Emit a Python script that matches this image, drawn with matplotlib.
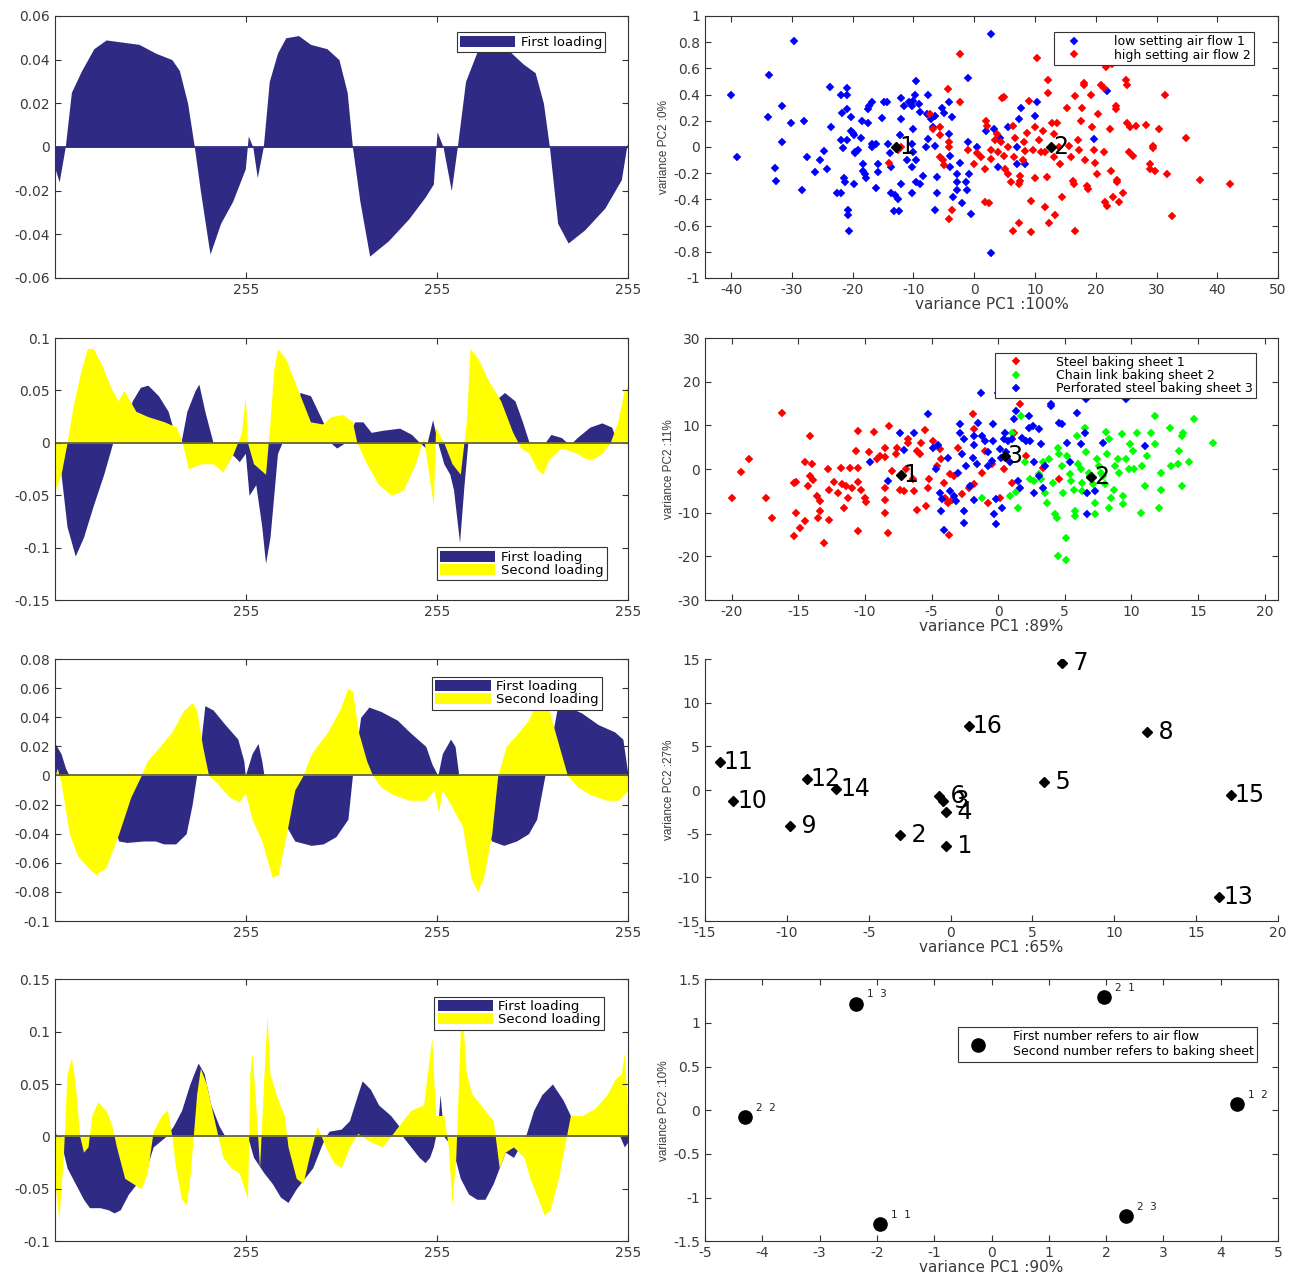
#plot.py
#Cargas de PCA (izquierda) y scores (derecha) en una grilla de 4x2

import matplotlib
matplotlib.use('Agg')
import matplotlib.pyplot as plt
from matplotlib.ticker import FuncFormatter

plt.rcParams['font.family'] = ['DejaVu Sans']

NAVY = '#2f2a84'
YELLOW = '#ffff00'
GRIS = '#333333'
TXT = '#3a3a3a'

#----------------------------------------------------------------
# Cargas (x = indice de variable, 0..765)
#----------------------------------------------------------------
c1_x = [0, 5.5, 13.6, 21.8, 35.5, 51.8, 68.2, 90, 112, 134, 156, 166, 177, 186, 194, 205, 207, 221, 237, 254,
        258, 264, 270, 278, 286, 297, 308, 325, 341, 363, 379, 390, 397, 407, 420, 445, 472, 494, 505, 510,
        518, 529, 537, 548, 565, 581, 603, 625, 641, 652, 660, 671, 685, 707, 734, 756, 764]
c1_first = [-0.010, -0.016, 0, 0.025, 0.035, 0.045, 0.049, 0.048, 0.047, 0.043, 0.040, 0.035, 0.020, 0, -0.020,
            -0.045, -0.049, -0.035, -0.025, -0.010, 0.005, 0, -0.014, 0, 0.030, 0.043, 0.050, 0.051, 0.047, 0.045,
            0.040, 0.025, 0, -0.025, -0.050, -0.043, -0.033, -0.023, -0.017, 0.007, 0, -0.020, 0, 0.030, 0.045,
            0.050, 0.045, 0.038, 0.034, 0.020, 0, -0.035, -0.044, -0.038, -0.028, -0.015, 0.002]

c2_x1 = [0, 8, 16, 27, 38, 51, 65, 77, 92, 103, 114, 124, 138, 151, 159, 168, 176, 187, 192, 200,
         211, 235, 246, 254, 259, 268, 276, 281, 287, 292, 297, 303, 319, 327, 341, 351, 359, 368, 376, 387,
         400, 411, 422, 438, 460, 476, 487, 495, 504, 511, 519, 527, 532, 540, 546, 551, 578, 587, 600, 614,
         624, 633, 654, 662, 676, 687, 697, 714, 730, 743, 751, 765]
c2_first = [0, -0.030, -0.080, -0.108, -0.090, -0.060, -0.030, 0, 0.010, 0.040, 0.053, 0.055, 0.045, 0.030, 0.010,
            0, 0.030, 0.050, 0.056, 0.030, 0, -0.010, -0.018, -0.010, -0.050, -0.040, -0.080, -0.115, -0.090,
            -0.050, -0.010, 0, 0.010, 0.048, 0.045, 0.030, 0.018, 0, -0.005, 0, 0.020, 0.020, 0.010, 0.012,
            0.014, 0.008, 0, -0.005, 0.022, 0, -0.020, -0.030, -0.045, -0.095, -0.040, 0, 0.020, 0.040, 0.048,
            0.040, 0.020, 0, 0, 0.008, 0.005, -0.002, 0.005, 0.015, 0.019, 0.015, 0, 0]
c2_x2 = [0, 8, 16, 24, 35, 43, 51, 62, 73, 84, 92, 100, 108, 124, 146, 162, 170, 178, 195, 211,
         224, 238, 249, 254, 257, 265, 281, 287, 292, 297, 308, 319, 330, 341, 357, 368, 384, 397, 403, 416,
         432, 449, 465, 481, 492, 505, 508, 519, 530, 541, 549, 554, 565, 578, 595, 611, 622, 633, 643, 651,
         660, 676, 697, 708, 719, 730, 741, 751, 760, 765]
c2_second = [-0.045, -0.030, 0, 0.035, 0.070, 0.090, 0.090, 0.075, 0.055, 0.040, 0.050, 0.040, 0.030, 0.025, 0.020,
             0.015, 0, -0.025, -0.020, -0.020, -0.028, -0.010, 0.010, 0.045, 0, -0.020, -0.030, 0.020, 0.070,
             0.090, 0.080, 0.060, 0.040, 0.020, 0.018, 0.025, 0.027, 0.020, 0, -0.020, -0.040, -0.050, -0.045,
             -0.020, 0.005, -0.060, 0.015, 0, -0.020, -0.030, 0.020, 0.090, 0.080, 0.060, 0.040, 0.010, -0.005,
             -0.010, -0.025, -0.030, -0.015, -0.005, -0.010, -0.015, -0.015, -0.010, 0, 0.020, 0.050, 0.055]

c3_x1 = [0, 8, 14, 19, 36, 68, 85, 96, 118, 134, 145, 161, 175, 183, 189, 194, 200, 211, 227, 244,
         252, 254, 263, 271, 276, 279, 309, 320, 342, 358, 375, 391, 397, 408, 419, 435, 457, 473, 495, 503,
         511, 517, 528, 534, 539, 572, 583, 599, 616, 632, 643, 654, 670, 681, 703, 725, 747, 758, 765]
c3_first = [0.022, 0.015, 0.005, 0, -0.010, -0.020, -0.045, -0.046, -0.045, -0.045, -0.047, -0.047, -0.040, -0.020,
            0, 0.020, 0.048, 0.045, 0.035, 0.025, 0.010, 0, 0.015, 0.022, 0.010, 0, -0.035, -0.045, -0.048,
            -0.047, -0.042, -0.030, 0, 0.040, 0.047, 0.044, 0.038, 0.030, 0.020, 0.008, 0, 0.015, 0.025, 0.020,
            0, -0.035, -0.045, -0.048, -0.045, -0.040, -0.030, 0, 0.045, 0.048, 0.043, 0.035, 0.030, 0.025, 0]
c3_x2 = [0, 3, 8, 19, 30, 47, 55, 68, 85, 101, 115, 123, 140, 156, 172, 183, 189, 197, 205, 216,
         233, 246, 254, 263, 276, 290, 298, 309, 320, 331, 342, 364, 380, 391, 397, 405, 416, 424, 435, 451,
         473, 495, 506, 512, 517, 528, 544, 555, 564, 572, 583, 591, 602, 616, 632, 646, 654, 662, 673, 684,
         698, 714, 736, 752, 765]
c3_second = [0, 0.005, -0.005, -0.040, -0.055, -0.065, -0.068, -0.063, -0.040, -0.015, 0, 0.010, 0.020, 0.030,
             0.045, 0.050, 0.045, 0.020, 0, -0.005, -0.015, -0.018, -0.012, -0.030, -0.045, -0.070, -0.068,
             -0.040, -0.010, 0, 0.015, 0.030, 0.045, 0.060, 0.058, 0.030, 0.010, 0, -0.008, -0.013, -0.017,
             -0.017, -0.010, -0.025, -0.010, -0.020, -0.035, -0.070, -0.080, -0.070, -0.040, 0, 0.020, 0.028,
             0.038, 0.055, 0.058, 0.040, 0.020, 0, -0.008, -0.013, -0.017, -0.017, -0.010]

c4_x1 = [0, 5, 11, 16, 27, 38, 46, 60, 71, 79, 87, 98, 109, 120, 131, 148, 158, 169, 180, 191,
         199, 208, 219, 227, 257, 265, 279, 290, 301, 311, 322, 333, 344, 355, 361, 366, 382, 393, 404, 410,
         421, 432, 448, 459, 464, 475, 486, 494, 500, 505, 511, 514, 519, 530, 541, 552, 563, 574, 585, 593,
         601, 612, 620, 628, 639, 650, 664, 678, 688, 694, 754, 760, 765]
c4_first = [0.003, 0, -0.015, -0.030, -0.045, -0.060, -0.068, -0.068, -0.070, -0.073, -0.070, -0.055, -0.045,
            -0.035, -0.010, 0, 0.010, 0.025, 0.050, 0.070, 0.060, 0.030, 0.010, 0, 0, -0.020, -0.035, -0.045,
            -0.058, -0.063, -0.050, -0.040, -0.030, -0.010, 0, 0.005, 0.007, 0.015, 0.040, 0.053, 0.045, 0.030,
            0.020, 0.010, 0, -0.010, -0.020, -0.025, -0.020, -0.010, 0.010, 0.040, 0, -0.010, -0.040, -0.055,
            -0.060, -0.060, -0.045, -0.030, -0.015, -0.020, -0.010, 0, 0.025, 0.040, 0.050, 0.035, 0.020, 0,
            0, -0.010, -0.005]
c4_x2 = [0, 5, 11, 16, 22, 27, 33, 38, 44, 49, 57, 68, 76, 82, 93, 104, 115, 123, 131, 142,
         150, 156, 161, 169, 175, 180, 189, 194, 202, 208, 216, 224, 235, 246, 257, 260, 263, 268, 273, 279,
         283, 287, 295, 306, 311, 322, 331, 339, 350, 361, 372, 382, 393, 404, 421, 437, 448, 464, 475, 492,
         503, 508, 519, 525, 530, 535, 541, 544, 549, 557, 574, 585, 593, 601, 612, 626, 634, 645, 653, 661,
         672, 680, 688, 704, 721, 737, 748, 756, 760, 764, 765]
c4_second = [-0.045, -0.080, -0.020, 0.060, 0.075, 0.050, 0, -0.015, -0.010, 0.020, 0.033, 0.025, 0.010, -0.010,
             -0.040, -0.045, -0.050, -0.035, 0.005, 0.020, 0.025, 0, -0.030, -0.060, -0.065, -0.040, 0.040,
             0.065, 0.050, 0.030, 0.005, -0.020, -0.030, -0.035, -0.060, 0.060, 0.080, 0.030, -0.030, 0.060,
             0.115, 0.060, 0.040, 0.020, -0.010, -0.040, -0.045, -0.020, 0.010, -0.010, -0.025, -0.030, -0.010,
             0.003, -0.005, -0.010, 0, 0.015, 0.025, 0.030, 0.095, 0.020, 0.020, -0.010, -0.065, -0.020, 0.100,
             0.115, 0.060, 0.040, 0.025, 0.015, -0.030, -0.015, -0.010, -0.020, -0.040, -0.060, -0.075, -0.070,
             -0.040, -0.010, 0.020, 0.020, 0.027, 0.040, 0.055, 0.060, 0.080, 0.030, -0.050]

#----------------------------------------------------------------
# Scores fila 1: caudal de aire
#----------------------------------------------------------------
aire_bajo = [(-40, 0.40), (-39, -0.08), (-33.7, 0.55), (-29.7, 0.81), (-33.9, 0.23), (-31.7, 0.31), (-31.7, 0.04),
             (-30.2, 0.18), (-28, 0.20), (-32.8, -0.16), (-32.6, -0.26), (-28.3, -0.33), (-27.5, -0.08),
             (-26.2, -0.19), (-25.3, -0.10), (-24.7, -0.03), (-24.2, -0.17), (-23.7, 0.46), (-23.5, 0.15),
             (-22.6, -0.35), (-21.9, -0.35), (-21.9, 0.40), (-20.9, 0.45), (-20.9, 0.40), (-21.7, 0.26),
             (-20.9, 0.29), (-21.9, 0.05), (-20.9, 0.05), (-21.6, -0.01), (-21.5, -0.24), (-21.3, -0.27),
             (-20.8, -0.48), (-20.8, -0.52), (-20.6, -0.64), (-20.2, 0.23), (-20.2, 0.12), (-19.9, 0.11),
             (-19.8, 0.09), (-19.6, -0.04), (-19.6, -0.05), (-19.2, -0.02), (-19.8, -0.28), (-18.7, 0.07),
             (-18.5, 0.20), (-18.3, -0.13), (-18.3, -0.18), (-18.0, -0.21), (-17.8, -0.24), (-17.5, 0.29),
             (-17.3, 0.31), (-16.9, 0.34), (-17.5, 0.18), (-16.9, 0.02), (-16.8, 0.0), (-16.1, 0.02),
             (-15.9, -0.13), (-15.8, -0.19), (-16.1, -0.31), (-15.2, 0.22), (-14.9, 0.34), (-14.4, 0.34),
             (-14.2, 0.02), (-13.9, -0.05), (-13.7, -0.35), (-13.7, -0.15), (-13.1, -0.37), (-12.5, -0.40),
             (-13.2, -0.49), (-12.3, -0.49), (-12.0, 0.37), (-11.6, 0.31), (-12.0, 0.21), (-12.2, 0.09),
             (-12.0, -0.28), (-11.0, -0.10), (-10.7, 0.34), (-10.0, 0.35), (-10.2, 0.31), (-9.6, 0.50),
             (-9.7, 0.40), (-9.1, 0.33), (-9.0, 0.27), (-10.0, 0.14), (-10.3, 0.02), (-10.0, -0.04),
             (-9.6, -0.10), (-10.2, -0.15), (-9.6, -0.27), (-10.2, -0.35), (-9.0, -0.28), (-8.5, -0.22),
             (-7.6, 0.40), (-7.8, 0.25), (-7.9, 0.0), (-7.6, 0.06), (-7.1, 0.21), (-6.8, 0.15), (-6.4, 0.24),
             (-6.4, 0.01), (-6.2, -0.23), (-6.2, -0.35), (-6.4, -0.48), (-5.3, 0.30), (-5.0, 0.26),
             (-4.1, 0.34), (-3.6, 0.23), (-4.1, 0.10), (-3.9, -0.07), (-3.9, -0.15), (-3.5, -0.38),
             (-2.9, -0.21), (-2.8, -0.27), (-2.8, -0.33), (-2.3, -0.12), (-2.0, -0.43), (-1.3, -0.27),
             (-1.2, -0.33), (-0.8, -0.21), (-1.0, 0.04), (-1.0, 0.53), (-0.6, -0.51), (0.4, 0.0), (2.7, 0.86),
             (2.7, -0.81), (2.0, 0.12), (3.2, 0.14), (4.2, 0.07), (3.9, -0.15), (5.6, 0.15), (7.7, 0.30),
             (7.3, 0.21), (7.0, 0.0), (7.0, -0.13), (10.0, 0.24), (10.3, 0.34), (8.3, -0.13), (19.7, 0.06),
             (21.9, 0.43)]
aire_alto = [(-14.0, -0.12), (-12.6, -0.02), (-12.0, 0.0), (-7.3, 0.25), (-6.8, 0.14), (-5.6, 0.15), (-5.6, 0.09),
             (-5.6, -0.08), (-5.1, -0.10), (-4.9, -0.14), (-4.3, 0.44), (-4.1, 0.04), (-4.1, 0.0), (-3.7, -0.48),
             (-4.1, -0.55), (-2.3, 0.71), (-2.3, 0.34), (-1.0, -0.02), (-0.1, -0.13), (0.4, -0.05), (1.1, -0.08),
             (1.8, -0.17), (2.0, 0.20), (2.1, 0.16), (1.8, -0.42), (2.5, -0.43), (2.8, -0.02), (2.8, -0.09),
             (3.4, 0.05), (3.7, 0.10), (3.9, -0.04), (4.4, 0.04), (4.6, 0.37), (4.9, 0.38), (4.9, -0.07),
             (5.1, -0.17), (5.6, -0.21), (5.6, 0.0), (6.0, -0.27), (6.4, -0.64), (6.4, 0.16), (6.5, -0.08),
             (6.7, 0.07), (7.3, -0.28), (7.3, -0.58), (7.5, -0.26), (7.6, -0.22), (8.0, -0.10), (8.2, 0.04),
             (8.3, -0.03), (8.7, 0.11), (9.0, 0.35), (9.4, -0.65), (9.4, -0.41), (9.7, -0.02), (10.0, 0.15),
             (10.4, 0.68), (10.0, -0.24), (10.7, 0.05), (11.0, -0.04), (11.4, 0.12), (11.7, -0.04), (12.1, 0.51),
             (12.1, 0.41), (11.9, -0.23), (11.7, -0.46), (12.3, -0.58), (12.8, 0.18), (13.2, 0.10), (13.2, -0.08),
             (13.3, -0.52), (13.7, 0.18), (13.9, 0.0), (14.2, -0.13), (14.5, -0.38), (15.2, 0.30), (15.6, 0.01),
             (15.9, -0.08), (16.3, -0.26), (16.5, -0.28), (16.6, -0.64), (16.6, 0.39), (17.0, 0.05),
             (17.3, -0.02), (17.6, 0.20), (17.8, 0.30), (18.2, 0.66), (18.0, 0.49), (18.0, 0.47), (18.3, -0.10),
             (18.6, -0.30), (18.7, -0.32), (19.2, 0.40), (19.4, 0.15), (19.7, -0.02), (19.9, -0.12),
             (20.2, -0.21), (20.4, 0.25), (20.9, 0.47), (21.3, 0.45), (21.4, -0.04), (21.6, -0.42), (21.8, -0.45),
             (21.7, 0.61), (22.3, 0.14), (22.5, -0.18), (22.7, 0.63), (22.8, -0.38), (23.3, 0.31), (23.3, 0.29),
             (23.5, -0.25), (23.5, -0.27), (23.9, -0.42), (24.5, -0.35), (24.9, 0.51), (25.2, 0.47), (25.2, 0.18),
             (25.4, -0.04), (25.6, 0.15), (26.2, -0.07), (26.6, 0.16), (28.2, 0.17), (28.9, -0.13), (29.0, -0.17),
             (29.5, -0.01), (29.5, 0.01), (29.8, -0.18), (30.4, 0.14), (31.4, 0.40), (31.7, -0.21),
             (32.6, -0.53), (34.9, 0.07), (37.2, -0.25), (42.1, -0.28)]
centros_aire = [(-12.8, 0.0), (12.6, 0.0)]
etiquetas_aire = ['1', '2']

#----------------------------------------------------------------
# Scores fila 2: bandeja
#----------------------------------------------------------------
bandeja_acero = [(-20.0, -6.6), (-19.3, -0.7), (-18.7, 2.4), (-17.4, -6.6), (-17.0, -11.2), (-16.2, 12.9),
                 (-15.3, -3.1), (-15.2, -3.0), (-15.2, -10.0), (-15.3, -15.4), (-14.9, -13.5), (-14.5, -11.8),
                 (-14.5, 1.5), (-14.3, -3.9), (-14.1, 7.6), (-14.0, 1.1), (-14.1, -1.6), (-13.9, -2.6),
                 (-13.6, -6.2), (-13.4, -7.4), (-13.4, -9.6), (-13.5, -11.2), (-13.1, -16.9), (-12.8, 0.1),
                 (-12.7, -11.6), (-12.7, -4.7), (-12.3, -3.0), (-12.0, -5.4), (-11.8, 0.3), (-11.7, -3.5),
                 (-11.6, -8.9), (-11.4, -3.9), (-11.3, -6.6), (-11.1, 0.3), (-11.0, -4.3), (-10.7, 4.1),
                 (-10.5, 8.7), (-10.5, -3.0), (-10.5, 0.3), (-10.5, -14.2), (-10.3, -4.7), (-10.0, -6.6),
                 (-9.9, -7.6), (-9.7, 3.8), (-9.3, 8.5), (-9.1, 2.2), (-8.9, 3.0), (-8.5, 2.8), (-8.5, 4.9),
                 (-8.5, -4.3), (-8.5, -7.0), (-8.5, -10.0), (-8.3, -14.6), (-8.2, 9.9), (-8.0, -0.5), (-7.7, 3.4),
                 (-7.6, 4.7), (-7.4, -4.7), (-7.1, -5.1), (-6.9, -0.1), (-6.8, 6.8), (-6.8, 6.0), (-6.4, -2.4),
                 (-6.3, -5.1), (-6.1, -9.3), (-6.1, 4.1), (-5.9, 3.4), (-5.8, 6.0), (-5.5, 9.0), (-5.4, -8.5),
                 (-5.3, -4.3), (-5.2, -2.4), (-4.9, 6.4), (-4.6, 0.7), (-4.4, 4.5), (-4.3, 2.4), (-4.1, -3.1),
                 (-4.0, -6.6), (-3.8, -7.7), (-3.7, -15.0), (-3.6, -1.2), (-3.5, -7.0), (-3.3, -1.6), (-3.0, 4.9),
                 (-2.7, -5.8), (-2.2, -4.3), (-1.9, 12.6), (-1.8, 9.1), (-1.8, -3.5), (-1.2, -0.8), (-1.0, 4.1),
                 (-0.8, -7.7), (-0.5, 1.1), (0.1, -6.6), (0.4, -0.1), (1.0, -3.1), (1.2, 8.3), (1.6, 14.9),
                 (2.1, 3.0), (3.4, 0.3), (4.6, -2.4)]
bandeja_malla = [(1.0, 8.3), (1.7, 12.2), (2.0, 1.5), (2.4, -2.4), (2.7, -2.8), (3.1, -1.2), (3.4, 1.6), (3.5, -5.4),
                 (3.7, -7.7), (3.8, 2.2), (4.1, -3.1), (4.3, -10.4), (4.4, -11.2), (4.5, -20.0), (4.5, 4.9),
                 (4.6, 3.4), (4.8, 0.7), (4.9, -5.4), (5.1, -15.8), (5.1, -20.8), (5.2, 3.0), (5.4, -1.2),
                 (5.5, -2.8), (5.7, -4.7), (5.8, -9.6), (5.8, -10.8), (5.9, 7.6), (6.0, 1.1), (6.2, 0.0),
                 (6.3, -3.1), (6.3, -5.1), (6.5, 9.5), (6.6, 3.8), (6.8, -0.8), (6.9, -1.6), (7.1, -3.5),
                 (7.3, -7.7), (7.3, -10.4), (7.4, 2.2), (7.6, 0.7), (7.7, -0.8), (7.9, -1.6), (8.0, -3.5),
                 (8.1, 8.5), (8.2, 3.4), (8.3, 6.8), (8.3, -8.9), (8.5, -6.6), (8.7, -4.7), (8.8, 0.7), (9.0, 2.2),
                 (9.1, -0.8), (9.3, 8.0), (9.4, -6.2), (9.4, -8.1), (9.6, 2.2), (9.8, 0.0), (9.9, 5.7), (10.1, 4.1),
                 (10.2, 0.0), (10.4, 8.3), (10.7, -10.0), (10.8, 0.7), (11.0, -3.8), (11.2, 3.0), (11.5, 8.3),
                 (11.8, 12.2), (11.8, 5.7), (12.1, -8.9), (12.2, -0.8), (12.2, -4.7), (12.9, 9.5), (13.0, 0.7),
                 (13.5, 1.1), (13.6, 4.1), (13.8, 7.6), (13.8, -3.8), (13.9, 8.3), (14.3, 1.5), (14.7, 11.4),
                 (16.1, 6.0), (-1.2, -6.6), (1.3, -5.3), (0.9, -6.2), (1.5, -8.9), (3.2, -2.4)]
bandeja_perforada = [(-7.4, 8.2), (-7.1, 4.4), (-8.3, -2.8), (-9.6, 1.5), (-6.3, 8.2), (-5.3, 12.6), (-4.9, 4.7),
                     (-4.7, -0.1), (-4.5, 5.4), (-4.4, -5.4), (-4.2, -6.8), (-4.3, -9.6), (-4.1, -13.9),
                     (-3.8, 2.6), (-3.6, -5.1), (-3.3, -6.2), (-3.2, -7.4), (-3.0, -0.8), (-2.9, 10.3), (-2.9, 8.3),
                     (-2.7, 3.4), (-2.6, 6.8), (-2.6, -9.6), (-2.6, -12.3), (-2.4, 0.7), (-2.1, -3.9), (-1.9, 2.6),
                     (-1.8, 5.4), (-1.6, 1.1), (-1.8, 7.6), (-1.8, -7.0), (-1.5, 10.6), (-1.3, 17.5), (-1.2, 7.6),
                     (-1.0, 6.4), (-0.8, 0.7), (-0.8, 3.8), (-0.5, 1.8), (-0.4, 10.3), (-0.4, 6.4), (-0.3, -10.4),
                     (-0.2, -12.7), (-0.2, -6.8), (0.0, 17.5), (0.1, 4.5), (0.2, 2.6), (0.3, -8.9), (0.4, 6.8),
                     (0.5, 8.3), (0.6, 3.8), (0.7, 6.4), (0.9, 1.5), (1.0, 6.8), (1.2, 11.4), (1.3, 13.3),
                     (1.5, -2.8), (1.6, -4.3), (1.8, 7.2), (2.1, 6.4), (2.3, 12.2), (2.3, 9.5), (2.4, 6.4),
                     (2.6, 9.9), (2.7, 1.5), (2.7, -5.4), (3.1, -1.6), (3.1, 9.1), (3.2, 5.7), (3.4, -4.3),
                     (3.5, 0.7), (4.0, 14.9), (4.0, 14.5), (4.6, 10.6), (4.8, 10.3), (5.2, 6.0), (5.4, 1.5),
                     (5.9, 12.9), (6.3, 18.9), (6.6, 16.0), (6.5, 8.3), (6.2, 5.7), (6.7, -5.4), (6.7, -10.4),
                     (7.3, -5.1), (7.9, 6.0), (9.6, 16.0), (11.0, 5.3), (15.4, 19.1)]
centros_bandeja = [(-7.3, -1.3), (7.0, -1.8), (0.5, 2.9)]
etiquetas_bandeja = ['1', '2', '3']

#----------------------------------------------------------------
# Scores fila 3: 16 muestras
#----------------------------------------------------------------
muestras_n = [7, 16, 8, 11, 12, 14, 10, 6, 3, 4, 5, 15, 9, 2, 1, 13]
muestras_pc1 = [6.8, 1.1, 12.0, -14.1, -8.8, -7.0, -13.3, -0.7, -0.46, -0.3, 5.7, 17.1, -9.8, -3.1, -0.3, 16.4]
muestras_pc2 = [14.5, 7.3, 6.6, 3.2, 1.3, 0.15, -1.3, -0.7, -1.2, -2.55, 0.9, -0.6, -4.1, -5.2, -6.4, -12.3]

#----------------------------------------------------------------
# Scores fila 4: combinaciones aire / bandeja
#----------------------------------------------------------------
combos = ['1 3', '2 1', '2 2', '1 2', '1 1', '2 3']
combos_pc1 = [-2.36, 1.96, -4.30, 4.28, -1.95, 2.35]
combos_pc2 = [1.22, 1.30, -0.076, 0.07, -1.30, -1.21]


def fmt_g(v, pos):
	return '%g' % round(v, 6)


def estilo(ax, caja=True):
	'Ejes al estilo MATLAB: ticks hacia adentro, caja gris'
	for s in ax.spines.values():
		s.set_color(GRIS)
		s.set_linewidth(0.8)
	if caja:
		ax.tick_params(direction='in', top=True, right=True, length=4, width=0.8,
		               colors=GRIS, labelsize=10, labelcolor=TXT)
	else:
		ax.spines['top'].set_visible(False)
		ax.spines['right'].set_visible(False)
		ax.tick_params(direction='in', length=4, width=0.8, colors=GRIS,
		               labelsize=10, labelcolor=TXT)
	ax.xaxis.set_major_formatter(FuncFormatter(fmt_g))
	ax.yaxis.set_major_formatter(FuncFormatter(fmt_g))


def etiquetas_ejes(ax, xl, yl):
	ax.set_xlabel(xl, fontsize=11, color=TXT, labelpad=0)
	ax.set_ylabel(yl, fontsize=8.5, color=TXT, labelpad=2, family='Liberation Sans')


def leyenda(ax, tam=9.5, **kw):
	leg = ax.legend(fontsize=tam, fancybox=False, framealpha=1, edgecolor=GRIS,
	                borderpad=0.25, labelspacing=0.02, **kw)
	leg.get_frame().set_linewidth(0.8)
	return leg


def panel_cargas(ax, x1, y1, x2, y2, yticks, loc, anchor):
	'Dibuja las cargas como areas rellenas desde cero'
	ax.fill_between(x1, 0, y1, color=NAVY, lw=0, label='First loading')
	if x2 is not None:
		ax.fill_between(x2, 0, y2, color=YELLOW, lw=0, label='Second loading')
		ax.axhline(0, color='#66663a', lw=1.3)
	else:
		ax.axhline(0, color=NAVY, lw=1.3)
	ax.set_xlim(0, 765)
	ax.set_ylim(min(yticks), max(yticks))
	ax.set_yticks(yticks)
	ax.set_xticks([255, 510, 765])
	estilo(ax)
	ax.set_xticklabels(['255', '255', '255'])
	leyenda(ax, loc=loc, bbox_to_anchor=anchor, handlelength=4.2, handleheight=0.9, handletextpad=0.4)


def nube(ax, pares, color, label):
	xs = [p[0] for p in pares]
	ys = [p[1] for p in pares]
	ax.plot(xs, ys, 'D', color=color, ms=3.8, mec=color, mew=0.3, ls='none', label=label)


def centros(ax, pares, etiquetas):
	for (cx, cy), et in zip(pares, etiquetas):
		ax.plot(cx, cy, 'D', color='k', ms=5.5)
		ax.annotate(et, (cx, cy), xytext=(2, 0), textcoords='offset points',
		            fontsize=17, va='center', ha='left')


fig = plt.figure(figsize=(12.95, 12.75), dpi=100)

izq, der, ancho, alto = 0.0425, 0.5444, 0.4425, 0.2055
bases = [0.782, 0.5294, 0.2776, 0.0265]

# columna izquierda: cargas
ax = fig.add_axes([izq, bases[0], ancho, alto])
panel_cargas(ax, c1_x, c1_first, None, None, [-0.06, -0.04, -0.02, 0, 0.02, 0.04, 0.06],
             'upper right', (0.972, 0.962))
ax = fig.add_axes([izq, bases[1], ancho, alto])
panel_cargas(ax, c2_x1, c2_first, c2_x2, c2_second, [-0.15, -0.1, -0.05, 0, 0.05, 0.1],
             'lower right', (0.974, 0.05))
ax = fig.add_axes([izq, bases[2], ancho, alto])
panel_cargas(ax, c3_x1, c3_first, c3_x2, c3_second, [-0.1, -0.08, -0.06, -0.04, -0.02, 0, 0.02, 0.04, 0.06, 0.08],
             'upper right', (0.966, 0.958))
ax = fig.add_axes([izq, bases[3], ancho, alto])
panel_cargas(ax, c4_x1, c4_first, c4_x2, c4_second, [-0.1, -0.05, 0, 0.05, 0.1, 0.15],
             'upper right', (0.97, 0.958))

# fila 1 derecha: caudal de aire
ax = fig.add_axes([der, bases[0], ancho, alto])
nube(ax, aire_bajo, '#0000ff', 'low setting air flow 1')
nube(ax, aire_alto, '#ff0000', 'high setting air flow 2')
centros(ax, centros_aire, etiquetas_aire)
ax.set_xlim(-44.3, 50)
ax.set_ylim(-1, 1)
ax.set_xticks(range(-40, 51, 10))
ax.set_yticks([-1, -0.8, -0.6, -0.4, -0.2, 0, 0.2, 0.4, 0.6, 0.8, 1])
estilo(ax)
etiquetas_ejes(ax, 'variance PC1 :100%', 'variance PC2 :0%')
leyenda(ax, tam=9, loc='upper right', bbox_to_anchor=(0.969, 0.962), handlelength=2.8, handletextpad=1.8)

# fila 2 derecha: tipo de bandeja
ax = fig.add_axes([der, bases[1], ancho, alto])
nube(ax, bandeja_acero, '#ff0000', 'Steel baking sheet 1')
nube(ax, bandeja_malla, '#00ff00', 'Chain link baking sheet 2')
nube(ax, bandeja_perforada, '#0000ff', 'Perforated steel baking sheet 3')
centros(ax, centros_bandeja, etiquetas_bandeja)
ax.set_xlim(-22, 21)
ax.set_ylim(-30, 30)
ax.set_xticks(range(-20, 21, 5))
ax.set_yticks(range(-30, 31, 10))
estilo(ax)
etiquetas_ejes(ax, 'variance PC1 :89%', 'variance PC2 :11%')
leyenda(ax, tam=9, loc='upper right', bbox_to_anchor=(0.972, 0.968), handlelength=2.8, handletextpad=1.8)

# fila 3 derecha: muestras numeradas
ax = fig.add_axes([der, bases[2], ancho, alto])
ax.plot(muestras_pc1, muestras_pc2, 'D', color='k', ms=5.5, ls='none')
for n, px, py in zip(muestras_n, muestras_pc1, muestras_pc2):
	ax.annotate(f'{n:>2}', (px, py), xytext=(3, 0), textcoords='offset points',
	            fontsize=17, va='center', ha='left')
ax.set_xlim(-15, 20)
ax.set_ylim(-15, 15)
ax.set_xticks(range(-15, 21, 5))
ax.set_yticks(range(-15, 16, 5))
estilo(ax, caja=False)
etiquetas_ejes(ax, 'variance PC1 :65%', 'variance PC2 :27%')

# fila 4 derecha: combinaciones
ax = fig.add_axes([der, bases[3], ancho, alto])
ax.plot(combos_pc1, combos_pc2, 'o', color='k', ms=9.5, ls='none',
        label='First number refers to air flow\nSecond number refers to baking sheet')
for et, px, py in zip(combos, combos_pc1, combos_pc2):
	ax.annotate(et.replace(' ', '  '), (px, py), xytext=(8, 3), textcoords='offset points',
	            fontsize=7.5, va='bottom', ha='left', color='#222222')
ax.set_xlim(-5, 5)
ax.set_ylim(-1.5, 1.5)
ax.set_xticks(range(-5, 6))
ax.set_yticks([-1.5, -1, -0.5, 0, 0.5, 1, 1.5])
estilo(ax)
etiquetas_ejes(ax, 'variance PC1 :90%', 'variance PC2 :10%')
leyenda(ax, tam=9, loc='upper right', bbox_to_anchor=(0.975, 0.84), handlelength=2.8, handletextpad=1.4)

fig.savefig('out.png', dpi=100, facecolor='white')
